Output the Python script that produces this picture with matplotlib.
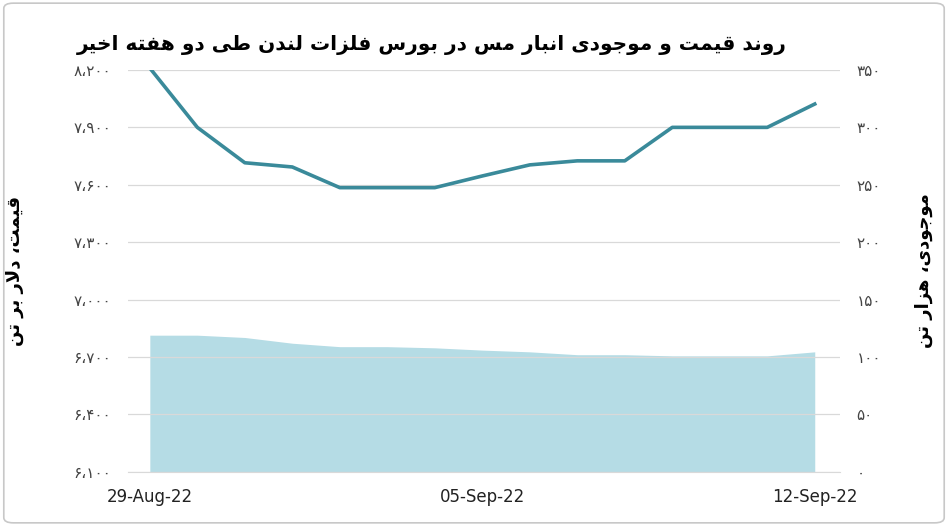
import matplotlib
matplotlib.use("Agg")
import matplotlib.pyplot as plt
from matplotlib.patches import FancyBboxPatch

dates = ["29-Aug-22","30-Aug-22","31-Aug-22","01-Sep-22","02-Sep-22","03-Sep-22","04-Sep-22",
         "05-Sep-22","06-Sep-22","07-Sep-22","08-Sep-22","09-Sep-22","10-Sep-22","11-Sep-22","12-Sep-22"]
price = [8210, 7900, 7715, 7693, 7585, 7585, 7585, 7646, 7704, 7725, 7725, 7900, 7900, 7900, 8022]
stock = [119, 119, 117, 112, 109, 109, 108, 106, 104.5, 102, 102, 101, 101, 101, 104.5]
xtick_labels = {0: "29-Aug-22", 7: "05-Sep-22", 14: "12-Sep-22"}
left_ticks = [6100, 6400, 6700, 7000, 7300, 7600, 7900, 8200]
right_ticks = [0, 50, 100, 150, 200, 250, 300, 350]
title = "روند قیمت و موجودی انبار مس در بورس فلزات لندن طی دو هفته اخیر"
ylabel_l = "قیمت، دلار بر تن"
ylabel_r = "موجودی، هزار تن"

FORMS = {
 'ا': (0xFE8D, 0xFE8E, None, None), 'ب': (0xFE8F, 0xFE90, 0xFE91, 0xFE92),
 'ت': (0xFE95, 0xFE96, 0xFE97, 0xFE98), 'ج': (0xFE9D, 0xFE9E, 0xFE9F, 0xFEA0),
 'خ': (0xFEA5, 0xFEA6, 0xFEA7, 0xFEA8), 'د': (0xFEA9, 0xFEAA, None, None),
 'ر': (0xFEAD, 0xFEAE, None, None), 'ز': (0xFEAF, 0xFEB0, None, None),
 'س': (0xFEB1, 0xFEB2, 0xFEB3, 0xFEB4), 'ط': (0xFEC1, 0xFEC2, 0xFEC3, 0xFEC4),
 'ف': (0xFED1, 0xFED2, 0xFED3, 0xFED4), 'ق': (0xFED5, 0xFED6, 0xFED7, 0xFED8),
 'ل': (0xFEDD, 0xFEDE, 0xFEDF, 0xFEE0), 'م': (0xFEE1, 0xFEE2, 0xFEE3, 0xFEE4),
 'ن': (0xFEE5, 0xFEE6, 0xFEE7, 0xFEE8), 'ه': (0xFEE9, 0xFEEA, 0xFEEB, 0xFEEC),
 'و': (0xFEED, 0xFEEE, None, None), 'ی': (0xFBFC, 0xFBFD, 0xFBFE, 0xFBFF),
 'ﻻ': (0xFEFB, 0xFEFC, None, None),
}

def shape(s):
    s = s.replace('لا', 'ﻻ')
    out = []
    n = len(s)
    for i, c in enumerate(s):
        if c not in FORMS:
            out.append(c); continue
        prev = s[i-1] if i > 0 else None
        nxt = s[i+1] if i < n-1 else None
        jp = prev in FORMS and FORMS[prev][2] is not None
        jn = nxt in FORMS and FORMS[c][2] is not None
        f = FORMS[c]
        if jp and jn: code = f[3]
        elif jp: code = f[1]
        elif jn: code = f[2]
        else: code = f[0]
        out.append(chr(code))
    return ''.join(out)[::-1]

def fa(n):
    s = f"{n:,}".replace(',', '،')
    return s.translate(str.maketrans('0123456789', '۰۱۲۳۴۵۶۷۸۹'))

plt.rcParams['font.family'] = ['DejaVu Sans']
fig = plt.figure(figsize=(9.48, 5.26), dpi=100)
fig.patches.append(FancyBboxPatch((0.004, 0.006), 0.992, 0.988, boxstyle="round,pad=0,rounding_size=0.01",
                                  transform=fig.transFigure, fill=False, ec="#c8c8c8", lw=1.2))
ax = fig.add_axes([0.135, 0.103, 0.751, 0.764])
ax2 = ax.twinx()
x = list(range(len(dates)))
ax2.fill_between(x, stock, 0, color="#b5dce5", lw=0, zorder=1)
ax2.set_ylim(0, 350)
ax.set_zorder(ax2.get_zorder() + 1); ax.patch.set_visible(False)
ax.plot(x, price, color="#3a8a9a", lw=2.6, zorder=3, clip_on=True)
ax.set_ylim(6100, 8200)
ax.set_xlim(-0.46, 14.53)
ax.set_yticks(left_ticks)
ax.set_yticklabels([fa(v) for v in left_ticks], fontsize=11, color='#444')
ax2.set_yticks(right_ticks)
ax2.set_yticklabels([fa(v) for v in right_ticks], fontsize=11, color='#444')
ax.set_xticks(list(xtick_labels.keys()))
ax.set_xticklabels(list(xtick_labels.values()), fontsize=12, color='#222')
ax.grid(axis='y', color='#d9d9d9', lw=0.9)
for a in (ax, ax2):
    for sp in a.spines.values(): sp.set_visible(False)
    a.tick_params(length=0, pad=12)
ax.spines['bottom'].set_visible(True); ax.spines['bottom'].set_color('#d9d9d9')
ax.set_ylabel(shape(ylabel_l), fontsize=13, fontweight='bold', rotation=90, labelpad=36)
ax2.set_ylabel(shape(ylabel_r), fontsize=13, fontweight='bold', rotation=90, labelpad=24)
fig.text(0.455, 0.915, shape(title), fontsize=14.5, fontweight='bold', ha='center', va='center')
fig.savefig("out.png", dpi=100)
